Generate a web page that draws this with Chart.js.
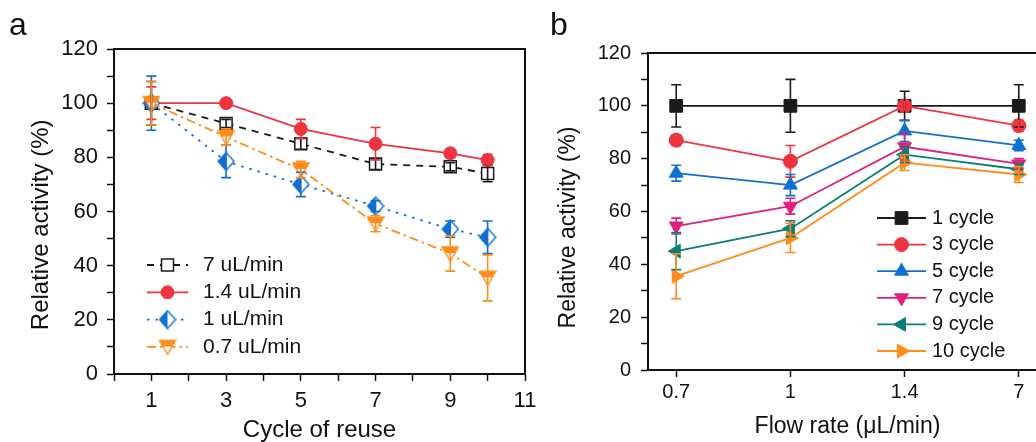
<!DOCTYPE html>
<html>
<head>
<meta charset="utf-8">
<script src="https://cdn.jsdelivr.net/npm/chart.js@4.4.0/dist/chart.umd.min.js"></script>
<style>
html, body { margin: 0; padding: 0; background: #fff; overflow: hidden; }
#wrap { position: relative; width: 1036px; height: 442px; overflow: hidden; }
#chartA { position: absolute; left: 0; top: 0; }
#chartB { position: absolute; left: 520px; top: 0; }
.panel { position: absolute; font-family: 'Liberation Sans', Arial, sans-serif; font-size: 32px; line-height: 1; color: #111; }
</style>
</head>
<body>
<div id="wrap">
    <canvas id="chartA" width="545" height="442"></canvas>
    <canvas id="chartB" width="560" height="442"></canvas>
    <div class="panel" style="left:9px; top:8px;">a</div>
    <div class="panel" style="left:550px; top:8px;">b</div>
</div>
<script>
// Panel a data (relative activity vs cycle of reuse)
var cycles = [1, 3, 5, 7, 9, 10];
var rate7 = [100, 92.5, 85, 77.5, 76.5, 74];
var rate7Err = [8, 1.5, 2, 2, 1.5, 3];
var rate14 = [100, 100, 90.5, 85, 81.5, 79];
var rate14Err = [6, 1.5, 3.5, 6, 1.5, 2];
var rate1 = [100, 78.5, 70, 62, 53.5, 50.5];
var rate1Err = [10, 6, 4.5, 2, 3, 6];
var rate07 = [100, 87.5, 75.5, 55.5, 44.5, 35.5];
var rate07Err = [8, 3, 3, 3, 6.5, 8.5];

// Panel b data (relative activity vs flow rate)
var flowRates = ['0.7', '1', '1.4', '7'];
var cycle1 = [100, 100, 100, 100];
var cycle1Err = [8, 10, 5.5, 8];
var cycle3 = [87, 79, 100, 92.5];
var cycle3Err = [2, 6, 1.5, 2];
var cycle5 = [74.5, 70, 90.5, 85];
var cycle5Err = [3, 4, 4, 2];
var cycle7 = [54.5, 62, 84.5, 78];
var cycle7Err = [3, 3, 5, 2];
var cycle9 = [45, 53.5, 81.5, 76];
var cycle9Err = [7, 3, 3, 2];
var cycle10 = [35.5, 50, 78.5, 74];
var cycle10Err = [8.5, 5.5, 3, 3];

var FONT = "'Liberation Sans', Arial, sans-serif";
var INK = '#111';
var NBSP = '\u00a0';

Chart.defaults.font.family = FONT;
Chart.defaults.color = INK;

function points(xs, ys) {
    return ys.map(function (v, i) { return {x: xs[i], y: v}; });
}

// Half filled diamond (left half solid)
function halfDiamond(color) {
    var c = document.createElement('canvas');
    c.width = 18; c.height = 20;
    var g = c.getContext('2d');
    g.fillStyle = '#fff';
    g.beginPath(); g.moveTo(9, 1); g.lineTo(17, 10); g.lineTo(9, 19); g.lineTo(1, 10); g.closePath(); g.fill();
    g.fillStyle = color;
    g.beginPath(); g.moveTo(9, 1); g.lineTo(9, 19); g.lineTo(1, 10); g.closePath(); g.fill();
    g.strokeStyle = color; g.lineWidth = 1.4;
    g.beginPath(); g.moveTo(9, 1); g.lineTo(17, 10); g.lineTo(9, 19); g.lineTo(1, 10); g.closePath(); g.stroke();
    return c;
}

// Down triangle with the top band solid
function halfTriangle(color) {
    var c = document.createElement('canvas');
    c.width = 18; c.height = 17;
    var g = c.getContext('2d');
    g.fillStyle = '#fff';
    g.beginPath(); g.moveTo(1, 2); g.lineTo(17, 2); g.lineTo(9, 16); g.closePath(); g.fill();
    g.fillStyle = color;
    g.beginPath(); g.moveTo(1, 2); g.lineTo(17, 2); g.lineTo(13.6, 8); g.lineTo(4.4, 8); g.closePath(); g.fill();
    g.strokeStyle = color; g.lineWidth = 1.4;
    g.beginPath(); g.moveTo(1, 2); g.lineTo(17, 2); g.lineTo(9, 16); g.closePath(); g.stroke();
    return c;
}

// Error bars from dataset.errors
var errorBars = {
    id: 'errorBars',
    afterDatasetsDraw: function (chart) {
        var ctx = chart.ctx, ys = chart.scales.y;
        chart.data.datasets.forEach(function (ds, i) {
            if (!ds.errors) return;
            var meta = chart.getDatasetMeta(i);
            ctx.save();
            ctx.strokeStyle = ds.borderColor;
            ctx.lineWidth = 1.6;
            meta.data.forEach(function (pt, j) {
                var v = ds.data[j].y, e = ds.errors[j];
                var top = ys.getPixelForValue(v + e), bot = ys.getPixelForValue(v - e);
                ctx.beginPath();
                ctx.moveTo(pt.x, top); ctx.lineTo(pt.x, bot);
                ctx.moveTo(pt.x - 5, top); ctx.lineTo(pt.x + 5, top);
                ctx.moveTo(pt.x - 5, bot); ctx.lineTo(pt.x + 5, bot);
                ctx.stroke();
            });
            ctx.restore();
        });
    }
};

// Top and right edges of the box
var frameBox = {
    id: 'frameBox',
    afterDraw: function (chart) {
        var a = chart.chartArea, ctx = chart.ctx;
        ctx.save();
        ctx.strokeStyle = INK;
        ctx.lineWidth = 2;
        ctx.beginPath();
        ctx.moveTo(a.left, a.top); ctx.lineTo(a.right, a.top); ctx.lineTo(a.right, a.bottom);
        ctx.stroke();
        ctx.restore();
    }
};

// Legend inside the plot: line + marker + text
var insideLegend = {
    id: 'insideLegend',
    afterDraw: function (chart, args, opts) {
        var ctx = chart.ctx;
        ctx.save();
        ctx.font = opts.font;
        ctx.textBaseline = 'middle';
        chart.data.datasets.forEach(function (ds, i) {
            var y = opts.y + i * opts.rowHeight;
            ctx.strokeStyle = ds.borderColor;
            ctx.lineWidth = ds.borderWidth;
            ctx.setLineDash(ds.borderDash || []);
            ctx.beginPath(); ctx.moveTo(opts.x, y); ctx.lineTo(opts.x + opts.lineLength, y); ctx.stroke();
            ctx.setLineDash([]);
            ctx.fillStyle = ds.pointBackgroundColor;
            ctx.strokeStyle = ds.borderColor;
            ctx.lineWidth = ds.pointBorderWidth;
            Chart.helpers.drawPoint(ctx, {
                pointStyle: ds.pointStyle,
                rotation: ds.pointRotation || 0,
                radius: ds.pointRadius,
                borderWidth: ds.pointBorderWidth
            }, opts.x + opts.lineLength / 2, y);
            ctx.fillStyle = INK;
            ctx.fillText(ds.label, opts.textX, y);
        });
        ctx.restore();
    }
};

var tickGrid = {drawOnChartArea: false, drawTicks: true, tickLength: 7, tickWidth: 1.5, tickColor: INK, color: INK};
var axisBorder = {display: true, width: 2, color: INK};


// Panel a chart
var ctxA = document.getElementById('chartA').getContext('2d');
var chartA = new Chart(ctxA, {
    type: 'line',
    data: {
        datasets: [{
            label: '7 uL/min',
            data: points(cycles, rate7),
            errors: rate7Err,
            borderColor: '#1a1a1a',
            borderWidth: 1.8,
            borderDash: [7, 6],
            pointStyle: 'rect',
            pointRadius: 8.5,
            pointBackgroundColor: '#fff',
            pointBorderWidth: 1.5,
            order: 4
        }, {
            label: '1.4 uL/min',
            data: points(cycles, rate14),
            errors: rate14Err,
            borderColor: '#ee3440',
            borderWidth: 1.8,
            pointStyle: 'circle',
            pointRadius: 6.5,
            pointBackgroundColor: '#ee3440',
            pointBorderWidth: 1,
            order: 3
        }, {
            label: '1 uL/min',
            data: points(cycles, rate1),
            errors: rate1Err,
            borderColor: '#1070d0',
            borderWidth: 1.8,
            borderDash: [2.5, 6],
            pointStyle: halfDiamond('#1070d0'),
            pointRadius: 9,
            pointBackgroundColor: '#1070d0',
            pointBorderWidth: 1,
            order: 2
        }, {
            label: '0.7 uL/min',
            data: points(cycles, rate07),
            errors: rate07Err,
            borderColor: '#ff8c1a',
            borderWidth: 1.8,
            borderDash: [9, 4, 2.5, 4],
            pointStyle: halfTriangle('#ff8c1a'),
            pointRadius: 9,
            pointBackgroundColor: '#ff8c1a',
            pointBorderWidth: 1,
            order: 1
        }]
    },
    options: {
        responsive: false,
        animation: false,
        devicePixelRatio: 1,
        layout: {padding: {top: 49, right: 20, left: 0, bottom: 0}},
        plugins: {
            legend: {display: false},
            tooltip: {enabled: false},
            insideLegend: {x: 147, lineLength: 41, textX: 203, y: 265, rowHeight: 27.3, font: '21px ' + FONT}
        },
        scales: {
            x: {
                type: 'linear', min: 0, max: 11,
                afterBuildTicks: function (s) {
                    var t = [];
                    for (var v = 0; v <= 11; v++) t.push({value: v});
                    s.ticks = t;
                },
                afterFit: function (s) { s.height = 68; },
                ticks: {
                    autoSkip: false, maxRotation: 0, padding: 7, color: INK, font: {size: 22},
                    callback: function (v) { return v % 2 === 1 ? v : ''; }
                },
                grid: tickGrid,
                border: axisBorder,
                title: {display: true, text: 'Cycle of reuse', color: INK, font: {size: 24, lineHeight: 1}, padding: {top: 0, bottom: 0}}
            },
            y: {
                min: 0, max: 120,
                afterFit: function (s) { s.width = 114; },
                ticks: {
                    stepSize: 10, autoSkip: false, padding: 9, color: INK, font: {size: 22},
                    callback: function (v) { return v % 20 === 0 ? v : ''; }
                },
                grid: tickGrid,
                border: axisBorder,
                title: {display: true, text: 'Relative activity (%)' + NBSP.repeat(4), color: INK, font: {size: 24, lineHeight: 1.2}, padding: {top: 27, bottom: 0}}
            }
        }
    },
    plugins: [errorBars, frameBox, insideLegend]
});


// Panel b chart
var idx = [0, 1, 2, 3];
var ctxB = document.getElementById('chartB').getContext('2d');
var chartB = new Chart(ctxB, {
    type: 'line',
    data: {
        datasets: [{
            label: '1 cycle', data: points(idx, cycle1), errors: cycle1Err,
            borderColor: '#1a1a1a', borderWidth: 1.8,
            pointStyle: 'rect', pointRadius: 9, pointBackgroundColor: '#1a1a1a', pointBorderWidth: 1, order: 6
        }, {
            label: '3 cycle', data: points(idx, cycle3), errors: cycle3Err,
            borderColor: '#ee3440', borderWidth: 1.8,
            pointStyle: 'circle', pointRadius: 7, pointBackgroundColor: '#ee3440', pointBorderWidth: 1, order: 5
        }, {
            label: '5 cycle', data: points(idx, cycle5), errors: cycle5Err,
            borderColor: '#1070d0', borderWidth: 1.8,
            pointStyle: 'triangle', pointRadius: 8, pointBackgroundColor: '#1070d0', pointBorderWidth: 1, order: 4
        }, {
            label: '7 cycle', data: points(idx, cycle7), errors: cycle7Err,
            borderColor: '#e0207a', borderWidth: 1.8,
            pointStyle: 'triangle', pointRotation: 180, pointRadius: 8, pointBackgroundColor: '#e0207a', pointBorderWidth: 1, order: 3
        }, {
            label: '9 cycle', data: points(idx, cycle9), errors: cycle9Err,
            borderColor: '#0a7f78', borderWidth: 1.8,
            pointStyle: 'triangle', pointRotation: 270, pointRadius: 8, pointBackgroundColor: '#0a7f78', pointBorderWidth: 1, order: 2
        }, {
            label: '10 cycle', data: points(idx, cycle10), errors: cycle10Err,
            borderColor: '#ff8c1a', borderWidth: 1.8,
            pointStyle: 'triangle', pointRotation: 90, pointRadius: 8, pointBackgroundColor: '#ff8c1a', pointBorderWidth: 1, order: 1
        }]
    },
    options: {
        responsive: false,
        animation: false,
        devicePixelRatio: 1,
        layout: {padding: {top: 53, right: 33, left: 0, bottom: 0}},
        plugins: {
            legend: {display: false},
            tooltip: {enabled: false},
            insideLegend: {x: 357, lineLength: 49, textX: 412, y: 218, rowHeight: 26.6, font: '20px ' + FONT}
        },
        scales: {
            x: {
                type: 'linear', min: -0.247, max: 3.247,
                afterBuildTicks: function (s) {
                    s.ticks = idx.map(function (v) { return {value: v}; });
                },
                afterFit: function (s) { s.height = 72; },
                ticks: {
                    autoSkip: false, maxRotation: 0, padding: 3, color: INK, font: {size: 20},
                    callback: function (v) { return flowRates[v]; }
                },
                grid: tickGrid,
                border: axisBorder,
                title: {display: true, text: 'Flow rate (\u03bcL/min)', color: INK, font: {size: 23, lineHeight: 1}, padding: {top: 0, bottom: 4}}
            },
            y: {
                min: 0, max: 120,
                afterFit: function (s) { s.width = 128; },
                ticks: {
                    stepSize: 10, autoSkip: false, padding: 10, color: INK, font: {size: 20},
                    callback: function (v) { return v % 20 === 0 ? v : ''; }
                },
                grid: tickGrid,
                border: axisBorder,
                title: {display: true, text: 'Relative activity (%)' + NBSP.repeat(5), color: INK, font: {size: 23, lineHeight: 1.2}, padding: {top: 35, bottom: 0}}
            }
        }
    },
    plugins: [errorBars, frameBox, insideLegend]
});
</script>
</body>
</html>
